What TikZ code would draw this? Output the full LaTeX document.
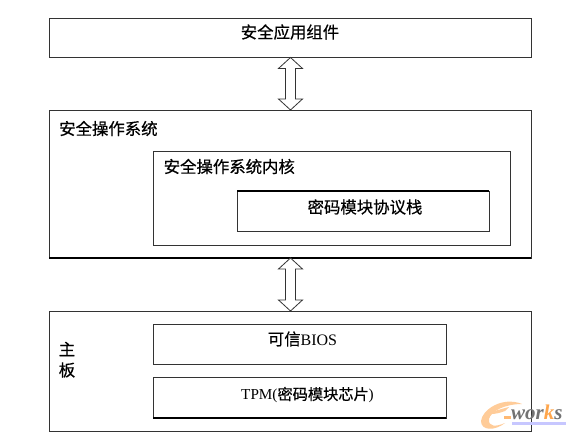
\documentclass[tikz,border=0pt]{standalone}
\usepackage{fontspec}
\usetikzlibrary{calc}
\setmainfont{Liberation Serif}
\newfontfamily\cjk{Noto Sans CJK SC}[FakeBold=0.5]
\newfontfamily\wmfont{Liberation Serif}
\definecolor{edge}{HTML}{333333}
\begin{document}
\begin{tikzpicture}[x=1pt,y=-1pt,
  box/.style={draw=edge,line width=0.8pt,fill=white,rectangle,inner sep=0pt,outer sep=0pt},
  lab/.style={font=\fontsize{16.4pt}{18pt}\selectfont,inner sep=0pt,text=black},
  dbl/.style={draw=edge,line width=0.8pt,fill=white,line join=miter}]
\useasboundingbox (0,0) rectangle (576,435);
\fill[white] (0,0) rectangle (576,435);
\newcommand{\dblarrow}[2]{%
  \draw[dbl] let \p1=(#1.south), \p2=(#2.north), \n1={\x1+0.5pt} in
    (\n1,\y1) -- ++(12pt,-11pt) -- ++(-7pt,0pt) -- (\n1+5pt,\y2+11pt) -- ++(7pt,0pt) -- (\n1,\y2) -- ++(-12pt,11pt) -- ++(7pt,0pt) -- (\n1-5pt,\y1-11pt) -- ++(-7pt,0pt) -- cycle;}
\newcommand{\boxat}[6][]{% name x1 y1 x2 y2
  \node[box,#1,minimum width=#4pt-#2pt,minimum height=#5pt-#3pt] (#6) at ({(#2+#4)/2},{(#3+#5)/2}) {};}
\boxat{49}{18}{531}{57.5}{appbox}
\boxat{49}{110}{531}{258}{osbox}
\boxat{153}{151}{510}{245}{kernbox}
\boxat{237}{191}{489}{231.5}{stackbox}
\boxat{49}{311}{531}{431}{mainbox}
\boxat{153}{324}{446}{364}{biosbox}
\boxat{153}{377}{446}{418}{tpmbox}
\draw[black,line width=1.2pt] (osbox.south west) -- (osbox.south east);
\draw[black,line width=1.2pt] (stackbox.north west) -- (stackbox.north east);
\draw[black,line width=1.2pt] (tpmbox.south west) -- (tpmbox.south east);
\dblarrow{appbox}{osbox}
\dblarrow{osbox}{mainbox}
\node[lab] (app) at (290,32) {\cjk 安全应用组件};
\node[lab,anchor=west] (os) at (59,128.5) {\cjk 安全操作系统};
\node[lab,anchor=west] (kern) at (163.5,166.5) {\cjk 安全操作系统内核};
\node[lab] (stack) at (365,207) {\cjk 密码模块协议栈};
\node[lab] (zhu) at (67,349) {\cjk 主};
\node[lab] (ban) at (67,370) {\cjk 板};
\node[lab] (bios) at (302.5,339) {{\cjk 可信}{\fontsize{16pt}{18pt}\selectfont BIOS}};
\node[lab] (tpm) at (307.5,395) {\fontsize{15.2pt}{18pt}\selectfont TPM({\cjk 密码模块芯片})};
\fill[orange!40] (522,404) .. controls (502,396) and (482,410) .. (481,421) .. controls (481,431) and (495,431) .. (505,423) .. controls (496,427) and (488,427) .. (489,419) .. controls (491,411) and (505,404) .. (522,404) -- cycle;
\fill[orange!40] (491,412) .. controls (498,410) and (505,408) .. (509,407) -- (505,411) .. controls (500,413) and (495,414) .. (491,414) -- cycle;
\fill[orange!55] (504,416) rectangle (511,419);
\fill[blue!22] (512,422) rectangle (566,425);
\node[inner sep=0pt,anchor=west,text=gray!90!black] (w) at (511,412) {\wmfont\fontsize{21pt}{21pt}\selectfont\bfseries\itshape wor\textcolor{orange!70}{k}s};
\end{tikzpicture}
\end{document}
